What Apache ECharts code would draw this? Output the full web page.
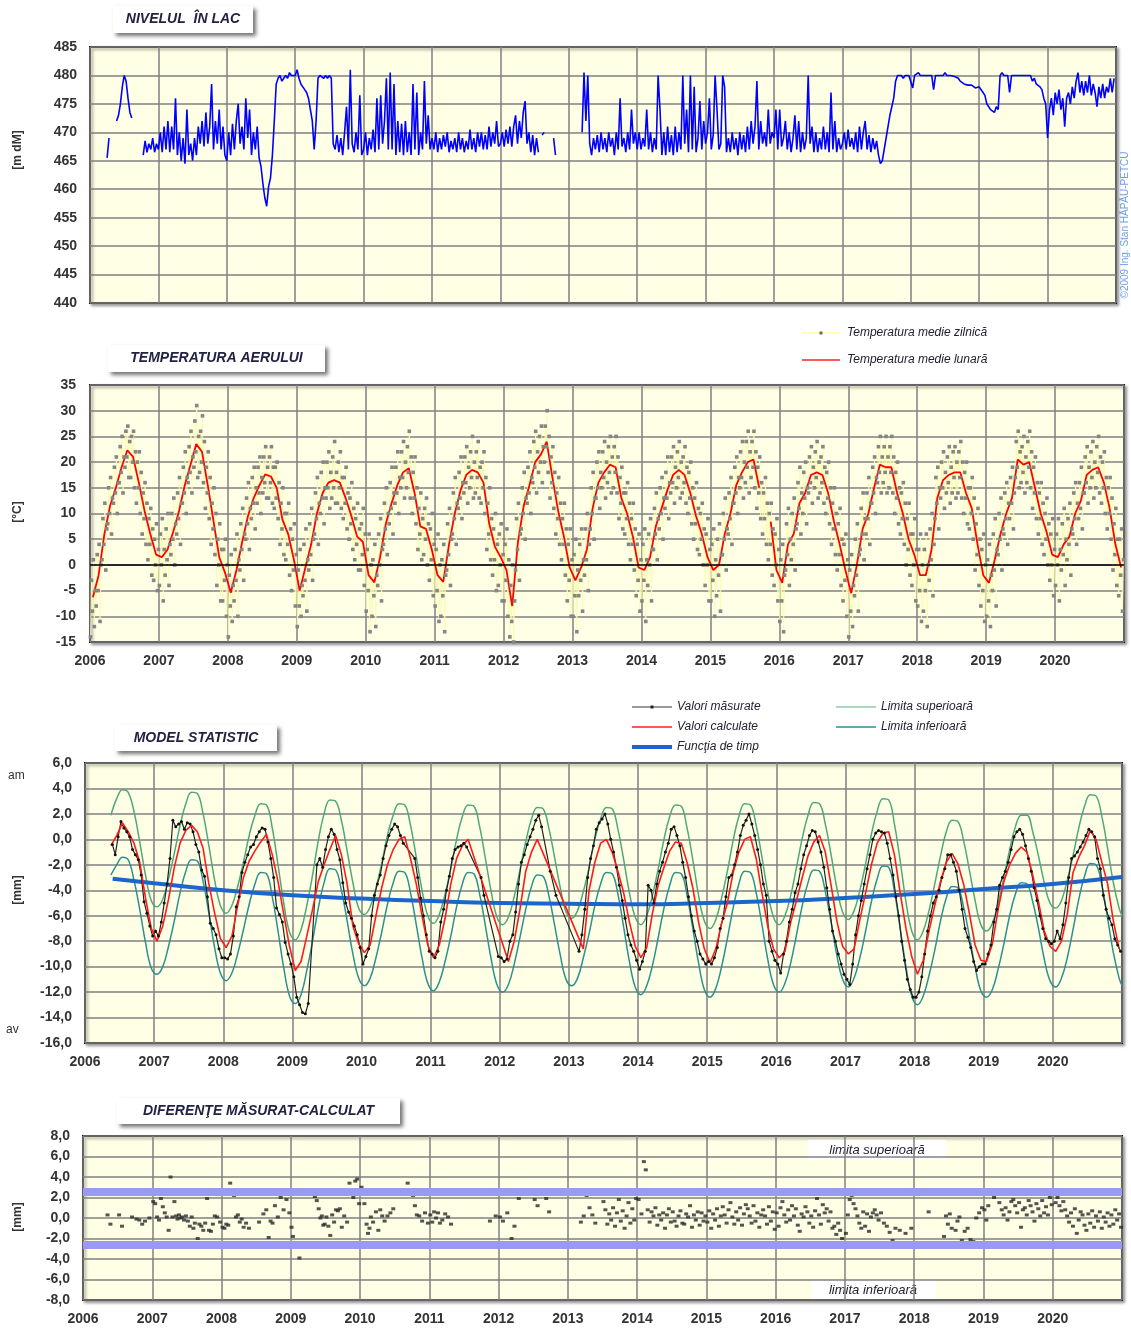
<!DOCTYPE html>
<html><head><meta charset="utf-8">
<script src="https://cdn.jsdelivr.net/npm/echarts@6/dist/echarts.min.js"></script>
<style>html,body{margin:0;padding:0;background:#fff}#c{width:1131px;height:1328px}</style>
</head><body><div id="c"></div>
<script>
// ---------------- DATA ----------------
const years = [2006,2007,2008,2009,2010,2011,2012,2013,2014,2015,2016,2017,2018,2019,2020];
const yearTicks = [2006,2007,2008,2009,2010,2011,2012,2013,2014,2015,2016,2017,2018,2019,2020];

// Lake level [mdM], 36 readings per year (about every 10 days)
const levelValues = [
 [null,null,null,null,null,null,null,null,null,465.5,469,null,null,null,472,473,475,478,480,479,476,473.5,472.5,null,null,null,null,null,466,468.5,466.5,468,467,469,466.5,468],
 [467,470,466.5,471,467,472,466.5,471,467,476,466,470,465,469,464.5,474,466,468,465,469,466,471,468,472,467.5,473.5,468,471,478.5,467,472,468,474,467,471,466],
 [465,470,466,471.5,467,472,475,468,471,467,476,469,474,466,470,467,471,465.5,464,461,458.5,457,460.5,462,466,472,478.5,479.5,480,479,479.5,480,479.5,480.5,480,480],
 [480,481,479.5,478.5,478,477.5,477,476,474,472,467,472,479.5,480,480,479.5,480,479.5,480,479.5,468,467,469.5,466.5,469,466,470,474.5,467,481,468,466.5,470,467,476.5,466],
 [467,470,466,469,467,470.5,466.5,476,467,476.5,468,472,479.5,467,480.5,467,478.5,466,472,466.5,471.5,466,472,466.5,470,466,478.5,467,477,466,470,467,479,468,473,467],
 [469,467,470,466.5,469,467,469.5,467.5,470,466.5,468.5,467,469,466.5,470,467,469,466.5,468.5,467,470.5,467,469,466.5,470,467.5,470,467,469.5,467,471,467.5,470,468,472,467.5],
 [468,470,467.5,470.5,468,471,467.5,471,473,468,472,469,473.5,475.5,468,470,466.5,469.5,466,469,466.5,null,469.5,470,null,null,null,null,469,466,null,null,null,null,null,null],
 [null,null,null,null,null,null,null,470,480.5,472,480,468,466,469,467,469.5,466.5,470,467,469,466.5,470,467.5,469,466,470,467,476,467.5,469,466.5,470,467,474,468,470],
 [467,470,467,469,467.5,474,467,470,466.5,469,467,480,474,466,470,466,471,466.5,469.5,466,471,466.5,470,467,480,468,474,466.5,480,467,478,466.5,469,475.5,467,472],
 [468,470,476,467,469.5,480,474,467,468,480,478,466.5,469,466.5,470,467,469,466,470,467,469.5,466.5,471,467,472,468,471,479,467,472,468,470,467.5,474,468,470],
 [469,474,467,474,467.5,469,472,467,470,466.5,469,473,467,472,466.5,470,467,469,480,468,471,466.5,470,466.5,469,467,471,467,470,466.5,477,467,472,466.5,469,467],
 [468,470,467,470.5,467.5,469,467,470,466.5,471,467,470,472,467,469.5,466.5,469,467,468.5,466,464.5,465,467,469,471,473,474.5,476,479,480,480,480,479.5,480,480,480],
 [480,477.8,480,480,480.5,480,480,480,480.3,480,480,480,477.5,480,480,480,480.3,480,480.5,480,480,480,480,479.8,480,479.5,479,479,478.5,478.5,478.3,478.4,478.3,478,477.8,478],
 [478,478.2,477,476.5,475,474.5,474,474,473.5,474.5,474,480,480.5,480,480,480,477,480,480,480,480,480,480,480,480,480,480,480,479,479.5,478.5,478.5,478,477.5,476,475],
 [469,474,476,473,477,475,477.5,474,476,471,476,477,475,478,476,479,480.5,477,479,476.5,479,477,480,476.5,478.5,477,474.5,478,476,478.5,476,478,477,479.5,477,479.5]
];

// Air temperature: monthly mean [°C]
const tempMonthly = [
 [-6.3,-2,6,11.5,15,19,22.3,21,16,10.5,6,2],
 [1.5,3,6.5,10.5,15.5,19.5,23.5,22,15.5,8.5,1.5,-1.5],
 [-5.4,-1,4.5,9.5,13,15.5,17.6,17.2,15,8.8,6,1],
 [-5,-0.5,4,10,14,16,16.5,16,13,9.5,5.5,4.5],
 [-2,-3.4,1.5,8,12,15.5,18,18.8,14,7.5,7,3],
 [-2,-3.3,4,10,14.5,17.5,18.5,18,16,8,3.5,1.5],
 [-1,-8,4.5,11.5,15.5,20,21.5,24,17,10.5,5.5,-0.5],
 [-3,-0.5,3,11,16,18,19.5,19,13,10,5.5,-0.5],
 [-1,1.5,7.5,11,14.5,17.5,18.5,17.5,14,9.5,6,1.5],
 [-1,0,6,10,15.5,18,20,20.5,15,null,8.4,-1],
 [-3.5,4,6,12,14,17.5,18,17.5,14,8.5,4,-1],
 [-5.5,0,7,10,15,19.5,19,19,14,10,5,2],
 [-2,-2,3,13,16.5,17.5,18,18,14,11,4,-2],
 [-3.5,1,6,10,13,20.5,19.5,20,15,10,6.5,2],
 [1.5,4,5.5,10,12.5,17.5,18.5,19,16,11,4,-0.5]
];

// Air temperature: daily means, six readings per month [°C]
const tempDaily = [
 [[-14,-3,-9,1,-12,-5],[-8,2,-5,4,-11,0],[1,9,4,12,-1,7],[8,15,10,17,6,13],[12,19,14,21,10,16],[16,23,18,25,14,21],[19,26,21,27,17,24],[17,25,20,26,15,22],[12,20,15,22,10,18],[6,14,9,16,4,12],[1,9,4,11,-2,7],[-3,5,0,8,-5,3]],
 [[-4,6,0,9,-7,3],[-2,7,1,10,-4,4],[2,10,5,13,0,8],[6,14,9,17,4,12],[12,19,14,22,10,17],[16,23,18,26,14,21],[19,28,22,31,17,25],[18,26,20,29,16,24],[11,19,14,22,9,17],[4,12,7,15,2,10],[-4,5,0,8,-7,3],[-7,3,-3,5,-10,0]],
 [[-14,-2,-8,2,-11,-4],[-7,3,-3,6,-10,1],[-1,8,3,11,-3,6],[5,13,8,16,3,11],[9,17,12,19,7,15],[12,19,14,21,10,17],[14,21,16,23,13,19],[13,21,16,23,12,19],[11,19,13,20,9,16],[4,12,7,15,2,10],[1,10,4,12,-2,7],[-5,5,-1,8,-8,2]],
 [[-12,-1,-8,3,-10,-4],[-6,4,-3,7,-9,1],[-1,8,2,11,-3,5],[6,14,9,17,4,12],[10,18,13,20,8,15],[13,20,15,22,11,18],[13,21,15,24,12,18],[12,20,15,22,11,17],[9,17,12,19,7,14],[5,13,8,16,3,11],[1,9,4,12,-1,7],[-1,8,2,11,-4,6]],
 [[-9,3,-5,6,-13,0],[-10,1,-6,4,-12,-2],[-4,6,0,9,-7,3],[4,12,7,15,2,10],[8,16,11,19,6,14],[12,19,14,22,10,17],[15,22,17,24,13,20],[15,23,18,26,13,21],[10,18,13,21,8,15],[3,11,6,14,1,9],[2,11,5,13,0,8],[-3,7,1,10,-6,4]],
 [[-8,3,-5,6,-11,0],[-10,1,-6,4,-13,-2],[-1,8,2,11,-4,5],[6,14,9,17,4,12],[11,18,13,21,9,16],[14,21,16,23,12,19],[15,22,17,25,13,20],[14,22,17,24,13,19],[12,20,15,22,10,17],[3,12,6,15,1,9],[-2,7,1,10,-5,4],[-4,6,0,8,-7,2]],
 [[-7,4,-3,7,-10,1],[-14,-4,-11,0,-15,-7],[-1,9,3,12,-3,6],[7,15,10,18,5,13],[12,19,14,22,10,17],[16,24,19,26,14,22],[18,25,20,27,16,23],[20,27,23,30,18,25],[13,21,16,23,11,18],[6,14,9,17,4,12],[1,9,4,12,-2,7],[-7,4,-3,7,-10,1]],
 [[-10,2,-6,5,-13,-1],[-6,4,-3,7,-9,1],[-2,7,1,10,-5,4],[7,15,10,18,5,13],[13,20,15,22,11,18],[15,22,17,24,13,20],[16,23,18,25,14,21],[15,23,18,25,14,21],[9,17,12,19,7,14],[6,14,9,16,4,12],[1,9,4,12,-1,7],[-6,4,-3,6,-9,1]],
 [[-7,4,-3,7,-11,1],[-4,6,0,9,-7,3],[3,11,6,14,1,9],[7,15,10,17,5,13],[11,18,13,21,9,16],[14,21,16,23,12,19],[15,22,17,24,13,20],[14,21,16,23,12,19],[10,18,13,20,8,15],[5,13,8,16,3,11],[2,10,5,12,0,7],[-4,6,0,9,-7,3]],
 [[-7,4,-3,7,-10,1],[-6,5,-2,8,-9,2],[2,10,5,13,-1,7],[6,14,9,17,4,12],[12,19,14,21,10,17],[15,22,17,24,13,20],[16,24,19,26,14,22],[17,24,19,26,15,22],[11,19,14,21,9,16],[6,14,9,17,4,12],[1,10,4,12,-2,7],[-4,6,0,9,-7,3]],
 [[-11,1,-7,4,-13,-2],[-1,8,2,11,-4,5],[1,10,4,13,-1,7],[8,16,11,19,6,14],[10,18,13,20,8,15],[14,21,16,23,12,19],[15,22,17,24,13,20],[14,21,16,23,12,19],[10,18,13,20,8,15],[4,12,7,15,2,10],[-1,8,2,11,-4,5],[-7,4,-3,6,-10,1]],
 [[-14,-1,-9,2,-12,-4],[-6,5,-2,8,-9,2],[3,11,6,14,1,9],[6,14,9,17,4,12],[12,19,14,21,10,17],[16,23,18,25,14,21],[16,23,18,25,14,21],[15,23,18,25,14,21],[10,18,13,20,8,15],[6,14,9,16,4,12],[0,9,3,12,-2,6],[-4,6,0,9,-7,3]],
 [[-8,3,-5,6,-11,0],[-9,3,-5,6,-12,0],[-3,7,1,10,-6,4],[9,17,12,19,7,15],[13,20,15,22,11,18],[14,21,16,23,12,19],[14,22,17,23,13,20],[14,22,17,24,13,20],[10,18,13,20,8,15],[7,15,10,17,5,13],[-1,8,2,11,-4,5],[-8,3,-5,6,-11,0]],
 [[-10,1,-7,4,-12,-2],[-5,6,-1,9,-8,3],[2,10,5,13,-1,7],[6,14,9,16,4,12],[9,17,12,19,7,14],[17,24,19,26,15,22],[16,23,18,25,14,21],[16,24,19,26,15,22],[11,19,14,21,9,16],[6,14,9,16,4,12],[2,10,5,13,0,8],[-3,6,0,9,-6,3]],
 [[-4,6,0,9,-7,3],[-1,8,2,11,-4,5],[1,9,4,12,-2,7],[6,14,9,16,4,12],[9,16,11,19,7,14],[14,21,16,23,12,19],[15,22,17,24,13,20],[15,23,18,25,14,21],[12,20,15,22,10,17],[7,15,10,17,5,13],[-1,8,2,11,-4,5],[-6,5,-2,7,-9,1]]
];

// Statistical model [mm]: measured (two readings per month)
const measValues = [
 [null,null,null,null,null,null,null,null,null,-0.4,-1.2,0.2,1.4,0.9,0.6,0.2,-0.8,-1.2,-1.6,-2.8,-4.9,-5.8,-6.8,-7.6],
 [-7.2,-7.6,-6.5,-5.0,-3.5,-1.5,1.5,1.0,1.2,1.4,0.8,1.3,1.2,0.6,-0.4,-1.0,-2.4,-2.9,-4.5,-6.6,-7.0,-7.5,-8.6,-9.3],
 [-9.3,-9.4,-9.0,-7.6,-5.3,-4.5,-2.6,-1.8,-1.2,-0.6,-0.4,0.2,0.6,0.9,0.8,-0.2,-1.5,-3.0,-5.4,-5.9,-6.5,-8.1,-9.0,-9.8],
 [-10.8,-12.4,-13.0,-13.6,-13.7,-12.9,null,null,-2.0,-1.5,-2.2,-0.8,0.2,0.8,0.4,-0.8,-1.6,-3.4,-5.0,-5.7,-6.2,-6.8,-7.5,-8.5],
 [-9.8,-9.2,-8.6,-6.0,-4.4,-3.5,-2.8,-1.5,-0.5,0.3,0.8,1.2,1.0,0.3,-0.3,null,null,null,-1.5,-3.0,-4.6,-6.0,-7.5,-8.8],
 [-9.0,-9.3,-8.8,-6.5,-5.5,-4.0,-2.9,-1.5,-0.8,-0.6,-0.5,-0.3,-0.6,null,null,null,null,-3.0,-4.4,null,null,null,null,-9.2],
 [-9.3,-9.6,-9.4,-8.0,-7.5,-5.7,-3.5,-1.8,-1.2,-0.4,0.2,0.8,1.5,1.9,1.0,null,null,-2.5,null,-4.4,null,null,null,null],
 [null,null,null,-8.8,-7.5,-5.5,-3.0,-1.5,-0.5,0.8,1.3,1.6,2.0,1.2,0.0,-1.0,-2.2,-3.6,-4.8,-6.2,-7.5,-8.3,-8.8,-9.5],
 [-10.2,-9.6,-8.8,-3.6,-4.0,-5.0,-3.5,-2.5,-1.8,-1.0,-0.3,0.8,1.0,0.3,-0.5,-1.8,-3.0,-4.5,-6.0,-7.2,-8.0,-9.0,-9.4,-9.8],
 [-9.6,-9.8,-9.3,-8.5,-7.0,-6.2,-4.5,-3.0,-2.8,-2.0,-1.0,0.3,1.1,1.5,2.0,1.2,0.3,-0.8,-2.0,-3.5,-4.4,-8.0,-8.8,-9.5],
 [-9.8,-10.5,-9.0,-8.0,-6.5,-5.5,-4.2,-3.5,-2.3,-1.2,-0.5,0.3,0.7,0.6,-0.2,-1.0,-2.2,-3.8,-5.5,-7.2,-8.0,-9.0,-9.8,-10.6],
 [-11.0,-11.4,-9.8,-7.5,-6.0,-4.8,-3.5,-2.3,-1.2,0.0,0.5,0.7,0.6,0.5,-0.3,-1.5,-2.8,-4.5,-6.0,-8.0,-9.5,-11.0,-11.8,-12.4],
 [-12.4,-12.0,-10.8,-9.0,-7.2,-6.0,-5.0,-4.5,-4.0,-3.0,-2.3,-1.2,-1.2,-1.8,-2.5,-4.0,-5.5,-7.0,-7.7,-8.5,-9.6,-10.3,-10.0,-9.8],
 [-9.8,-9.0,-8.3,-6.5,-5.5,-3.6,-3.0,-2.5,-1.8,-0.8,0.2,0.6,0.8,0.4,-0.5,-1.5,-2.5,-3.8,-4.8,-6.0,-7.0,-7.8,-8.0,-8.2],
 [-8.0,-7.2,-7.8,-6.7,-5.0,-3.0,-1.5,-1.3,-1.0,-0.6,-0.2,0.3,0.8,0.6,0.2,-1.5,-2.3,-4.4,-5.5,-6.2,-6.7,-7.8,-8.3,-8.8]
];

// Statistical model: calculated values (monthly)
const calcValues = [
 [null,null,null,null,-0.5,0.3,1.3,0.6,-0.3,-1.8,-4.6,-7.0],
 [-8.0,-6.8,-4.7,-2.2,-0.3,0.7,1.1,0.6,-0.7,-3.5,-5.8,-7.8],
 [-8.5,-7.6,-5.2,-3.0,-1.7,-0.9,-0.2,0.4,-1.2,-3.3,-5.9,-8.4],
 [-10.3,-9.6,-7.6,-5.5,-3.3,-2.0,-0.8,0.3,-1.2,-3.5,-6.8,-8.2],
 [-8.9,-8.3,-6.0,-3.8,-2.0,-0.8,0.0,0.2,-1.5,-3.5,-6.0,-8.3],
 [-9.3,-8.3,-6.2,-3.5,-1.5,-0.5,0.0,null,null,null,null,null],
 [null,-9.6,-8.0,-5.5,-2.5,-1.0,0.0,null,null,null,null,null],
 [null,null,-8.6,-4.0,-1.8,-0.3,0.0,-1.0,-2.5,-4.2,-6.5,-8.4],
 [-9.3,-8.5,-5.8,-3.6,-2.2,-0.9,-0.2,-0.3,-1.8,-3.8,-6.5,-8.6],
 [-9.7,-8.6,-6.6,-5.0,-2.6,-1.0,0.0,0.2,-1.5,-4.2,-6.8,-8.6],
 [-9.3,-8.8,-6.5,-4.8,-3.0,-1.3,-0.2,0.3,-1.0,-3.6,-6.4,-8.4],
 [-9.0,-8.6,-6.3,-4.2,-2.0,-0.3,0.5,0.6,-1.2,-4.2,-7.0,-9.2],
 [-10.6,-9.5,-7.2,-5.2,-3.3,-1.8,-1.1,-1.9,-3.5,-5.8,-8.3,-9.5],
 [-9.6,-8.2,-5.5,-3.3,-2.0,-1.1,-0.6,-1.0,-2.8,-4.9,-7.2,-8.4],
 [-8.8,-8.0,-5.9,-2.6,-1.4,-0.5,0.7,0.0,-1.8,-3.5,-6.4,-8.6]
];

// Statistical model: upper and lower limits (monthly)
const upperLimit = [
 [null,null,null,null,1.9,3.2,3.9,3.7,2.2,-0.2,-2.8,-4.8],
 [-5.3,-4.7,-3.1,-1.1,1.1,2.8,3.7,3.6,2.0,-0.5,-3.2,-5.2],
 [-5.8,-5.2,-3.7,-1.8,0.3,1.9,2.8,2.7,0.9,-2.0,-5.0,-7.3],
 [-7.9,-7.1,-5.2,-2.8,-0.1,2.0,3.1,3.0,1.5,-0.9,-3.4,-5.4],
 [-5.9,-5.3,-3.8,-1.9,0.3,1.9,2.8,2.7,1.1,-1.4,-4.0,-6.0],
 [-6.6,-5.9,-4.3,-2.3,0.0,1.8,2.7,2.6,1.0,-1.5,-4.1,-6.1],
 [-6.7,-6.1,-4.5,-2.4,-0.2,1.6,2.5,2.4,0.9,-1.4,-3.8,-5.7],
 [-6.2,-5.6,-4.1,-2.2,0.0,1.6,2.5,2.4,0.8,-1.6,-4.2,-6.1],
 [-6.7,-6.0,-4.4,-2.3,0.0,1.8,2.7,2.6,0.9,-1.6,-4.4,-6.4],
 [-7.0,-6.3,-4.6,-2.5,-0.1,1.8,2.8,2.7,1.1,-1.4,-4.1,-6.1],
 [-6.7,-6.0,-4.4,-2.2,0.1,1.9,2.9,2.8,1.2,-1.2,-3.8,-5.7],
 [-6.3,-5.6,-4.0,-1.9,0.4,2.2,3.2,3.1,1.2,-1.7,-4.9,-7.2],
 [-7.9,-7.2,-5.6,-3.5,-1.3,0.6,1.5,1.4,-0.1,-2.4,-4.8,-6.7],
 [-7.2,-6.6,-5.0,-3.0,-0.8,1.0,1.9,1.9,0.6,-1.3,-3.4,-5.0],
 [-5.4,-4.8,-3.2,-1.3,0.9,2.6,3.5,3.4,1.8,-0.7,-3.4,-5.4]
];
const lowerLimit = [
 [null,null,null,null,-2.8,-2.0,-1.4,-1.6,-3.2,-5.5,-8.1,-10.1],
 [-10.6,-10.0,-8.4,-6.4,-4.2,-2.5,-1.6,-1.7,-3.3,-5.8,-8.5,-10.5],
 [-11.1,-10.5,-9.0,-7.1,-5.1,-3.5,-2.6,-2.7,-4.5,-7.2,-10.1,-12.3],
 [-12.9,-12.2,-10.3,-8.0,-5.4,-3.4,-2.3,-2.4,-4.0,-6.4,-9.0,-10.9],
 [-11.5,-10.9,-9.3,-7.3,-5.1,-3.4,-2.5,-2.6,-4.2,-6.7,-9.3,-11.3],
 [-11.9,-11.2,-9.6,-7.6,-5.3,-3.5,-2.6,-2.7,-4.3,-6.8,-9.4,-11.4],
 [-12.0,-11.4,-9.8,-7.7,-5.5,-3.7,-2.8,-2.9,-4.4,-6.7,-9.1,-11.0],
 [-11.5,-10.9,-9.3,-7.4,-5.2,-3.5,-2.6,-2.7,-4.3,-6.9,-9.6,-11.6],
 [-12.2,-11.5,-9.9,-7.7,-5.4,-3.6,-2.6,-2.7,-4.4,-7.0,-9.7,-11.8],
 [-12.4,-11.7,-10.0,-7.8,-5.4,-3.5,-2.5,-2.6,-4.2,-6.7,-9.4,-11.4],
 [-12.0,-11.3,-9.7,-7.5,-5.2,-3.4,-2.4,-2.5,-4.1,-6.5,-9.1,-11.0],
 [-11.6,-10.9,-9.3,-7.2,-4.9,-3.1,-2.1,-2.2,-4.1,-7.0,-10.0,-12.3],
 [-13.0,-12.3,-10.7,-8.7,-6.4,-4.6,-3.7,-3.8,-5.3,-7.6,-10.0,-11.9],
 [-12.4,-11.8,-10.2,-8.2,-6.0,-4.3,-3.4,-3.5,-4.9,-7.0,-9.4,-11.1],
 [-11.6,-10.9,-9.3,-7.1,-4.7,-2.9,-1.9,-2.0,-3.6,-6.2,-8.9,-10.9]
];
const limitEnd = [-6.0, -11.5]; // upper, lower at end of 2020

// Time function (trend)
const trendYears  = [2006.4,2007,2008,2009,2010,2011,2012,2013,2014,2015,2016,2017,2018,2019,2020,2021];
const trendValues = [-3.1,-3.45,-4.0,-4.4,-4.65,-4.85,-5.0,-5.05,-5.1,-5.0,-4.85,-4.6,-4.3,-3.9,-3.5,-2.95];

// Differences measured - calculated [mm], readings grouped by month
const diffValues = [
 [[],[],[],[],[0.3,-0.6],[],[0.3,-0.8],[],[0.1],[-0.1,-0.2],[-0.6,-0.3],[0]],
 [[1.6,1.4,0.1],[-0.2,1.9,1.1],[0.5,0.1,-1.2],[4.0,0.1,1.6],[0.2,-0.1,0.3,0],[0.1,-0.2,0.2],[-0.3,-0.8,0.1],[-1.0,-0.5,-2.4,-2.0],[-0.6,-0.8,-1.2],[-0.5,1.9,-1.2],[-1.3,-0.6,0.2],[0.1,-0.4]],
 [[-0.9,-1.0,-0.6],[-0.7,3.4,2.7],[2.2,0.1,0.3],[-0.4,-0.1,-0.9],[-0.5,-1.0],[],[-0.4],[0.4,0.8],[-1.9,-0.3,-0.5],[1.2,0.1],[2.0,0.8],[1.8,0.5]],
 [[-0.9,-1.8,-2.6,-2.7],[-3.9],[],[],[2.1,1.7,0.9],[0,0.2,-0.7,-0.6],[0.1,-0.8,-1.7],[0.3,-0.4,0.8],[0.7,0.9,-0.9],[0.2,-0.4],[3.4,2.4,2.0],[3.6,3.8,1.4]],
 [[3.0,1.4],[-0.6,-1.5,-1.0,0.1],[-0.4,0.6],[-1.2,0.8,0.2],[-0.3,0.2],[0.5,0.9],[],[],[3.4,2.7],[2.2,1.2,0.3],[0.2,-0.3],[0.5,-0.5]],
 [[0.3,-0.4,0.6],[0,0.5,-0.5],[-0.2,0.4],[0.1,-0.6],[],[],[],[],[],[],[-0.3],[0.2]],
 [[0.1,-0.3],[0.5],[-2.0,-0.8],[1.9],[],[],[1.8,1.2],[],[1.9,0.6],[],[],[]],
 [[],[],[-0.4,0.2],[2.2,1.0],[0.3,-0.5],[],[1.6,0.8,-0.6],[0.4,-0.2,1.0],[-0.8,0.5,1.8],[-0.3,0.7,-1.0],[0.2,1.5,-0.5],[0.9,-0.2,1.9]],
 [[1.8,0.4],[5.5,4.7,0.8],[-0.4,0.6,0.2],[1.0,-0.7,0.3],[-0.2,0.5,-1.0],[0.3,0.9,-0.4],[0.6,-0.3,-0.8],[0.2,0.7,-0.5],[-0.6,0.4,0.1],[1.2,-0.9,0.3],[-0.2,0.6,-0.7],[0.5,-0.3,0.2]],
 [[-0.4,0.7,-1.0],[0.4,-0.2,0.9],[-0.8,0.2,1.1],[0.3,-0.5,0.8],[1.5,0.1,-0.6],[0.6,-0.2,1.0],[-0.7,0.4,1.3],[0.9,0.2,-0.5],[1.2,-0.3,0.5],[-0.9,0.3,0.8],[0.2,-0.6,1.1],[-0.3,0.6,-1.1]],
 [[0.5,-0.8,1.0],[1.6,0.3,-0.4],[0.8,-0.2,1.2],[0.2,0.9,-0.7],[-1.3,0.4,0.1],[1.1,0.6,-0.5],[0.2,-0.9,0.7],[1.9,0.3,-0.6],[1.3,0.5,0.9],[-0.3,0.6,-1.0],[-0.8,-1.6,-0.5],[-1.2,-2.0,-2.5]],
 [[-1.5,0.3,1.8],[2.2,1.4,0.9],[0.2,-0.5,-1.0],[0.6,-0.8,0.4],[-1.3,0.1,0.5],[0.8,0.3,-0.2],[0.5,-0.5],[-0.8,-1.4],[-2.2,-1.0],[-1.2],[-1.5],[-1.0]],
 [[],[],[0.6],[],[],[-1.8,0.2,-0.6],[0.4,-1.0,-2.5],[-1.2,-0.3,0.1],[-2.2,-1.3],[-1.0,-2.1],[-2.3,0.0],[0.5,1.0]],
 [[0.8,-0.2,1.2],[2.5,2.3,2.0],[2.4,1.5],[0.8,0.3,1.0],[-0.2,0.6,1.6],[1.8,1.2,0.5],[1.5,-0.9,0.8],[1.0,0.3,1.7],[1.2,0.6,-0.3],[1.4,0.9,0.2],[1.7,0.5,1.1],[0.3,2.0,1.3]],
 [[2.7,1.5,2.0],[1.2,0.7,1.6],[0.8,0.2,-0.4],[0.5,-0.8,0.9],[-1.5,-0.2,0.6],[0.3,-0.7,-1.2],[0.4,-0.5,0.7],[-0.9,0.2,-0.3],[0.6,-1.0,0.1],[-0.4,0.5,-0.8],[0.3,-0.6,0.8],[-0.2,0.4,-0.9]]
];
const diffLimits = [2.6, -2.6];

// ---------------- BUILD SERIES DATA ----------------
function perYear(rows, perYearCount, keepNull) {
  const out = [];
  rows.forEach((row, yi) => row.forEach((v, i) => {
    if (v === null && !keepNull) return;
    out.push([years[yi] + (i + 0.5) / perYearCount, v]);
  }));
  return out;
}
const levelData = [];
levelValues.forEach((row, yi) => row.forEach((v, i) => levelData.push([years[yi] + i / 36, v])));
const tempMonthlyData = perYear(tempMonthly, 12, true);
const tempDailyData = [];
tempDaily.forEach((row, yi) => row.forEach((vals, m) => vals.forEach((v, k) => {
  tempDailyData.push([years[yi] + (m + (k + 0.5) / vals.length) / 12, v]);
})));
const measData = perYear(measValues, 24, false);
const calcData = perYear(calcValues, 12, false);
const upperData = perYear(upperLimit, 12, false); upperData.push([2021, limitEnd[0]]);
const lowerData = perYear(lowerLimit, 12, false); lowerData.push([2021, limitEnd[1]]);
const trendData = trendYears.map((y, i) => [y, trendValues[i]]);
const diffData = [];
diffValues.forEach((row, yi) => row.forEach((vals, m) => vals.forEach((v, k) => {
  diffData.push([years[yi] + (m + (k + 0.5) / vals.length) / 12, v]);
})));

// ---------------- CHART ----------------
const FONT = 'Liberation Sans, Arial, sans-serif';
const labelStyle = {color: '#333', fontSize: 14, fontWeight: 'bold', fontFamily: FONT};
const gridLine = {show: true, lineStyle: {color: '#808080', width: 1.5}};
const gridStyle = {show: true, backgroundColor: '#FFFFE6', borderColor: '#111', borderWidth: 2,
  shadowColor: 'rgba(0,0,0,0.35)', shadowBlur: 3, shadowOffsetX: 2, shadowOffsetY: 2, outerBoundsMode: 'none'};
const comma = v => v.toFixed(1).replace('.', ',');

function xAx(gi, show) {
  return {gridIndex: gi, type: 'value', min: 2006, max: 2021, interval: 1,
    axisLine: {show: false}, axisTick: {show: false}, splitLine: gridLine,
    axisLabel: Object.assign({show: show, margin: 12, formatter: v => (yearTicks.indexOf(v) >= 0 ? String(v) : '')}, labelStyle)};
}
function yAx(gi, min, max, interval, fmt, margin) {
  return {gridIndex: gi, type: 'value', min, max, interval,
    axisLine: {show: false}, axisTick: {show: false}, splitLine: gridLine,
    axisLabel: Object.assign({margin: margin, formatter: fmt}, labelStyle)};
}

function titleBox(x, y, w, h, text) {
  return {type: 'group', left: x, top: y, children: [
    {type: 'rect', shape: {x: 0, y: 0, width: w, height: h},
     style: {fill: '#fff', shadowBlur: 4, shadowOffsetX: 3, shadowOffsetY: 3, shadowColor: 'rgba(0,0,0,0.55)'}},
    {type: 'text', x: w / 2, y: h / 2, style: {text, textAlign: 'center', textVerticalAlign: 'middle',
      fill: '#222244', font: 'italic bold 14px ' + FONT}}
  ]};
}
function legLine(x1, x2, y, color, width, dot) {
  const arr = [{type: 'line', shape: {x1, y1: y, x2, y2: y}, style: {stroke: color, lineWidth: width}}];
  if (dot) arr.push({type: 'rect', shape: {x: (x1 + x2) / 2 - 1.5, y: y - 1.5, width: 3, height: 3}, style: {fill: dot}});
  return arr;
}
function legText(x, y, text) {
  return {type: 'text', x, y, style: {text, textVerticalAlign: 'middle', fill: '#222233', font: 'italic 12px ' + FONT}};
}
function vText(x, y, text, size, color, weight) {
  return {type: 'text', x, y, rotation: Math.PI / 2,
    style: {text, textAlign: 'center', textVerticalAlign: 'middle', fill: color, font: (weight || 'bold') + ' ' + size + 'px ' + FONT}};
}

const graphics = [
  titleBox(113, 6, 140, 27, 'NIVELUL  ÎN LAC'),
  titleBox(108, 345, 217, 27, 'TEMPERATURA AERULUI'),
  titleBox(115, 725, 162, 26, 'MODEL STATISTIC'),
  titleBox(117, 1098, 283, 26, 'DIFERENŢE MĂSURAT-CALCULAT'),
  vText(18, 150, '[m dM]', 12, '#333'),
  vText(18, 512, '[°C]', 12, '#333'),
  vText(18, 890, '[mm]', 12, '#333'),
  vText(18, 1217, '[mm]', 12, '#333'),
  vText(1125, 225, '©2009 Ing. Stan HĂPĂU-PETCU', 10, '#6f9fe0', 'normal'),
  {type: 'text', x: 8, y: 776, style: {text: 'am', textVerticalAlign: 'middle', fill: '#333', font: '12px ' + FONT}},
  {type: 'text', x: 6, y: 1030, style: {text: 'av', textVerticalAlign: 'middle', fill: '#333', font: '12px ' + FONT}},
  ...legLine(802, 840, 333, '#ffff99', 1.5, '#666'),
  legText(847, 333, 'Temperatura medie zilnică'),
  ...legLine(802, 840, 360, '#ff2020', 1.5),
  legText(847, 360, 'Temperatura medie lunară'),
  ...legLine(632, 672, 707, '#777', 1.5, '#222'),
  legText(677, 707, 'Valori măsurate'),
  ...legLine(632, 672, 727, '#ff2020', 1.5),
  legText(677, 727, 'Valori calculate'),
  ...legLine(632, 672, 747, '#1a66cc', 4),
  legText(677, 747, 'Funcţia de timp'),
  ...legLine(836, 876, 707, '#8fcca8', 1.5),
  legText(881, 707, 'Limita superioară'),
  ...legLine(836, 876, 727, '#2a9090', 1.5),
  legText(881, 727, 'Limita inferioară'),
  {type: 'group', left: 808, top: 1140, z: 100, children: [
    {type: 'rect', shape: {x: 0, y: 0, width: 138, height: 20}, style: {fill: '#fff'}},
    {type: 'text', x: 69, y: 10, style: {text: 'limita superioară', textAlign: 'center', textVerticalAlign: 'middle', fill: '#222233', font: 'italic 13px ' + FONT}}
  ]},
  {type: 'group', left: 811, top: 1280, z: 100, children: [
    {type: 'rect', shape: {x: 0, y: 0, width: 125, height: 19}, style: {fill: '#fff'}},
    {type: 'text', x: 62, y: 10, style: {text: 'limita inferioară', textAlign: 'center', textVerticalAlign: 'middle', fill: '#222233', font: 'italic 13px ' + FONT}}
  ]}
];

const option = {
  animation: false,
  backgroundColor: '#fff',
  grid: [
    Object.assign({left: 90, top: 47, width: 1026, height: 256}, gridStyle),
    Object.assign({left: 90, top: 385, width: 1034, height: 257}, gridStyle),
    Object.assign({left: 85, top: 763, width: 1037, height: 280}, gridStyle),
    Object.assign({left: 83, top: 1136, width: 1039, height: 164}, gridStyle)
  ],
  xAxis: [xAx(0, false), xAx(1, true), xAx(2, true), xAx(3, true)],
  yAxis: [
    yAx(0, 440, 485, 5, v => String(v), 13),
    yAx(1, -15, 35, 5, v => String(v), 14),
    yAx(2, -16, 6, 2, comma, 13),
    yAx(3, -8, 8, 2, comma, 13)
  ],
  series: [
    {type: 'line', xAxisIndex: 0, yAxisIndex: 0, data: levelData, showSymbol: false, connectNulls: false,
     lineStyle: {color: '#0000ff', width: 1.6}},
    {type: 'line', xAxisIndex: 1, yAxisIndex: 1, data: tempDailyData, symbol: 'rect', symbolSize: 3.6,
     showAllSymbol: true, itemStyle: {color: '#858585'}, lineStyle: {color: '#fbfbb4', width: 0.8}},
    {type: 'line', xAxisIndex: 1, yAxisIndex: 1, data: tempMonthlyData, showSymbol: false, connectNulls: false,
     lineStyle: {color: '#ff0000', width: 1.8},
     markLine: {silent: true, symbol: 'none', label: {show: false}, lineStyle: {color: '#000', width: 1.5, type: 'solid'}, data: [{yAxis: 0}]}},
    {type: 'line', xAxisIndex: 2, yAxisIndex: 2, data: upperData, smooth: 0.4, showSymbol: false,
     lineStyle: {color: '#4fa878', width: 1.5}},
    {type: 'line', xAxisIndex: 2, yAxisIndex: 2, data: lowerData, smooth: 0.4, showSymbol: false,
     lineStyle: {color: '#2a9090', width: 1.5}},
    {type: 'line', xAxisIndex: 2, yAxisIndex: 2, data: trendData, smooth: true, showSymbol: false,
     lineStyle: {color: '#1a66cc', width: 4}},
    {type: 'line', xAxisIndex: 2, yAxisIndex: 2, data: measData, symbol: 'circle', symbolSize: 3, showAllSymbol: true,
     itemStyle: {color: '#111'}, lineStyle: {color: '#222', width: 1.2}},
    {type: 'line', xAxisIndex: 2, yAxisIndex: 2, data: calcData, showSymbol: false,
     lineStyle: {color: '#ff1a1a', width: 1.6}},
    {type: 'line', xAxisIndex: 3, yAxisIndex: 3, data: [],
     markLine: {silent: true, symbol: 'none', label: {show: false}, lineStyle: {color: '#9a9af2', width: 8, type: 'solid'},
       data: diffLimits.map(v => ({yAxis: v}))}},
    {type: 'scatter', xAxisIndex: 3, yAxisIndex: 3, data: diffData, symbol: 'rect', symbolSize: [4, 3],
     itemStyle: {color: '#2a2a2a'}}
  ],
  graphic: graphics
};
const chart = echarts.init(document.getElementById('c'), null, {renderer: 'canvas'});
chart.setOption(option);
</script>
</body></html>
